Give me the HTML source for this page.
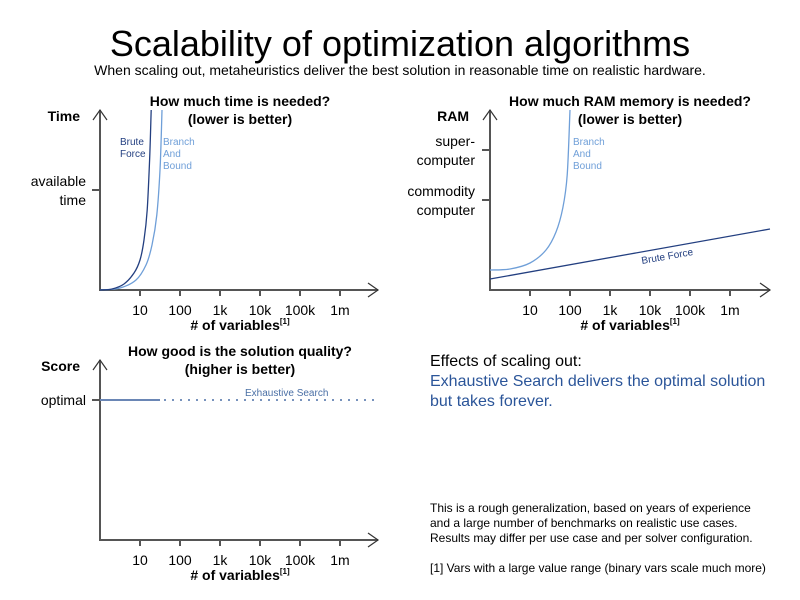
<!DOCTYPE html>
<html><head><meta charset="utf-8"><style>
body{margin:0;background:#fff;width:800px;height:600px;overflow:hidden}
svg{display:block;font-family:"Liberation Sans",Arial,sans-serif}
</style></head><body>
<svg id="s" width="800" height="600" viewBox="0 0 800 600">
<text x="400" y="56" text-anchor="middle" font-size="36" fill="#000">Scalability of optimization algorithms</text>
<text x="400" y="75" text-anchor="middle" font-size="14" fill="#000">When scaling out, metaheuristics deliver the best solution in reasonable time on realistic hardware.</text>
<g id="g"></g>
<text x="430" y="366" font-size="16" fill="#000">Effects of scaling out:</text>
<text x="430" y="386" font-size="16" fill="#2b5599">Exhaustive Search delivers the optimal solution</text>
<text x="430" y="406" font-size="16" fill="#2b5599">but takes forever.</text>
<g font-size="12" fill="#000">
<text x="430" y="512">This is a rough generalization, based on years of experience</text>
<text x="430" y="527">and a large number of benchmarks on realistic use cases.</text>
<text x="430" y="542">Results may differ per use case and per solver configuration.</text>
<text x="430" y="572">[1] Vars with a large value range (binary vars scale much more)</text>
</g>
</svg>
<script>
const tickLabels=["10","100","1k","10k","100k","1m"];
const tickDecades=[1,2,3,4,5,6];
// Time chart (value units: available time = 1)
const timeBruteLog=[0,0.3,0.6,0.85,1.0,1.1,1.18,1.24,1.28];
const timeBruteVal=[0,0.01,0.06,0.17,0.3,0.5,0.8,1.3,1.8];
const timeBnbLog=[0,0.5,0.9,1.15,1.3,1.42,1.5,1.55];
const timeBnbVal=[0,0.02,0.1,0.25,0.45,0.75,1.2,1.8];
// RAM chart (units; commodity=90, super=140)
const ramBnbLog=[0,0.5,1,1.4,1.65,1.82,1.93,2];
const ramBnbVal=[20,21,27,40,58,82,115,180];
const ramBruteLog=[0,7];
const ramBruteVal=[11,61];
// Score chart
const scoreSolidLog=[0,1.5];
const scoreDottedLog=[1.5,7];
const scoreOptimal=1;

const NS="http://www.w3.org/2000/svg";
const G=document.getElementById('g');
function el(t,a,p){const e=document.createElementNS(NS,t);for(const k in a)e.setAttribute(k,a[k]);(p||G).appendChild(e);return e;}
function txt(x,y,s,a){const e=el('text',Object.assign({x:x,y:y},a));e.textContent=s;return e;}

function axes(ox,oy,top,right,name){
  const g=el('g',{});
  
  
  el('path',{d:`M${ox},${top} V${oy} H${right}`,stroke:'#555',fill:'none','stroke-width':2},g);
  el('path',{d:`M${ox-7},${top+10} L${ox},${top} L${ox+7},${top+10}`,stroke:'#333',fill:'none','stroke-width':1.2},g);
  el('path',{d:`M${right-10},${oy-7} L${right},${oy} L${right-10},${oy+7}`,stroke:'#333',fill:'none','stroke-width':1.2},g);
  tickDecades.forEach((d,i)=>{
    const x=ox+40*d;
    el('line',{x1:x,y1:oy,x2:x,y2:oy+6,stroke:'#555','stroke-width':2},g);
    const t=txt(x,oy+25,tickLabels[i],{'text-anchor':'middle','font-size':14,fill:'#000'});
    
    
  });
  const xl=txt(ox+140,oy+40,'# of variables',{'text-anchor':'middle','font-size':14,'font-weight':'bold',fill:'#000'});
  
  
  const sup=el('tspan',{dy:-6,'font-size':8});sup.textContent='[1]';xl.appendChild(sup);
}
function curve(ox,oy,logs,vals,sy,color,name){
  const P=logs.map((l,i)=>[ox+40*l,oy-vals[i]*sy]);
  let d='M'+P[0][0]+','+P[0][1];
  for(let i=0;i<P.length-1;i++){
    const p0=P[Math.max(0,i-1)],p1=P[i],p2=P[i+1],p3=P[Math.min(P.length-1,i+2)];
    const c1=[p1[0]+(p2[0]-p0[0])/6,p1[1]+(p2[1]-p0[1])/6];
    const c2=[p2[0]-(p3[0]-p1[0])/6,p2[1]-(p3[1]-p1[1])/6];
    d+=` C${c1[0].toFixed(1)},${c1[1].toFixed(1)} ${c2[0].toFixed(1)},${c2[1].toFixed(1)} ${p2[0].toFixed(1)},${p2[1].toFixed(1)}`;
  }
  const p=el('path',{d:d,stroke:color,fill:'none','stroke-width':1.3,'stroke-linejoin':'round'});
  
  
}
function title(x,y,a,b,name){
  const t1=txt(x,y,a,{'text-anchor':'middle','font-size':14,'font-weight':'bold'});
  
  
  const t2=txt(x,y+18,b,{'text-anchor':'middle','font-size':14,'font-weight':'bold'});
  
  
}
const DB='#233f80',LB='#6f9fd8';
// Time chart
axes(100,290,110,378,'time');
title(240,106,'How much time is needed?','(lower is better)','time-chart');
let t=txt(80,121,'Time',{'text-anchor':'end','font-size':14,'font-weight':'bold'});

el('line',{x1:92,y1:190,x2:100,y2:190,stroke:'#555','stroke-width':2});
t=txt(86,186,'available',{'text-anchor':'end','font-size':14});
t=txt(86,205,'time',{'text-anchor':'end','font-size':14});
curve(100,290,timeBnbLog,timeBnbVal,100,LB,'time-branch-and-bound-line');
curve(100,290,timeBruteLog,timeBruteVal,100,DB,'time-brute-force-line');
[['Brute',145],['Force',157]].forEach(a=>{t=txt(120,a[1],a[0],{'font-size':10,fill:DB});});
[['Branch',145],['And',157],['Bound',169]].forEach(a=>{t=txt(163,a[1],a[0],{'font-size':10,fill:LB});});
// RAM chart
axes(490,290,110,770,'ram');
title(630,106,'How much RAM memory is needed?','(lower is better)','ram-chart');
t=txt(469,121,'RAM',{'text-anchor':'end','font-size':14,'font-weight':'bold'});

el('line',{x1:482,y1:150,x2:490,y2:150,stroke:'#555','stroke-width':2});
el('line',{x1:482,y1:200,x2:490,y2:200,stroke:'#555','stroke-width':2});
[['super-',146],['computer',165],['commodity',196],['computer',215]].forEach(a=>{t=txt(475,a[1],a[0],{'text-anchor':'end','font-size':14});});
curve(490,290,ramBnbLog,ramBnbVal,1,LB,'ram-branch-and-bound-line');
curve(490,290,ramBruteLog,ramBruteVal,1,DB,'ram-brute-force-line');
[['Branch',145],['And',157],['Bound',169]].forEach(a=>{t=txt(573,a[1],a[0],{'font-size':10,fill:LB});});
t=txt(0,0,'Brute Force',{'font-size':10,fill:DB,transform:'translate(642,264) rotate(-10)'});

// Score chart
axes(100,540,360,378,'score');
title(240,356,'How good is the solution quality?','(higher is better)','score-chart');
t=txt(80,371,'Score',{'text-anchor':'end','font-size':14,'font-weight':'bold'});

el('line',{x1:92,y1:400,x2:100,y2:400,stroke:'#555','stroke-width':2});
t=txt(86,405,'optimal',{'text-anchor':'end','font-size':14});
const sy=v=>540-v*140;
let p=el('line',{x1:100+40*scoreSolidLog[0],y1:sy(scoreOptimal),x2:100+40*scoreSolidLog[1],y2:sy(scoreOptimal),stroke:'#6a86b5','stroke-width':2});

p=el('line',{x1:100+40*scoreDottedLog[0]+4,y1:sy(scoreOptimal),x2:100+40*scoreDottedLog[1],y2:sy(scoreOptimal),stroke:'#4a6fa5','stroke-width':1.5,'stroke-dasharray':'2,6'});

t=txt(245,396,'Exhaustive Search',{'font-size':10,fill:'#4a6fa5'});

</script>
</body></html>
